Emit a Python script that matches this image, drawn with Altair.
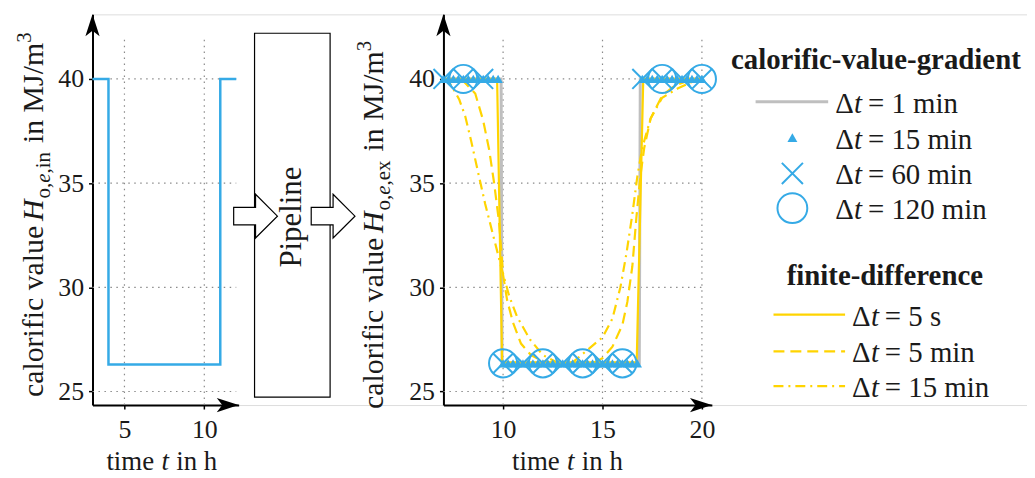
import altair as alt
import pandas as pd

FONT = "Liberation Serif"
BLUE = "#35aae6"
YELLOW = "#ffd400"
GRAY = "#bfbfbf"
INK = "#1a1a1a"
GRIDC = "#8a8a8a"

# ---------------- data ----------------
# inlet calorific value (left panel)
in_t = [3, 4, 4, 11, 11, 12]
in_v = [40, 40, 26.3, 26.3, 40, 40]

# calorific-value-gradient method (right panel)
cvg1_t = [7, 9.9, 9.95, 16.85, 16.9, 20]
cvg1_v = [40, 40, 26.35, 26.35, 40, 40]

cvg15_t = [7.0, 7.25, 7.5, 7.75, 8.0, 8.25, 8.5, 8.75, 9.0, 9.25, 9.5, 9.75,
           10.0, 10.25, 10.5, 10.75, 11.0, 11.25, 11.5, 11.75, 12.0, 12.25, 12.5, 12.75,
           13.0, 13.25, 13.5, 13.75, 14.0, 14.25, 14.5, 14.75, 15.0, 15.25, 15.5, 15.75,
           16.0, 16.25, 16.5, 16.75,
           17.0, 17.25, 17.5, 17.75, 18.0, 18.25, 18.5, 18.75, 19.0, 19.25, 19.5, 19.75, 20.0]
cvg15_v = [40, 40, 40, 40, 40, 40, 40, 40, 40, 40, 40, 40,
           26.35, 26.35, 26.35, 26.35, 26.35, 26.35, 26.35, 26.35, 26.35, 26.35, 26.35, 26.35,
           26.35, 26.35, 26.35, 26.35, 26.35, 26.35, 26.35, 26.35, 26.35, 26.35, 26.35, 26.35,
           26.35, 26.35, 26.35, 26.35,
           40, 40, 40, 40, 40, 40, 40, 40, 40, 40, 40, 40, 40]

cvg60_t = [7, 8, 9, 10, 11, 12, 13, 14, 15, 16, 17, 18, 19, 20]
cvg60_v = [40, 40, 40, 26.35, 26.35, 26.35, 26.35, 26.35, 26.35, 26.35, 40, 40, 40, 40]

cvg120_t = [8, 10, 12, 14, 16, 18, 20]
cvg120_v = [40, 26.35, 26.35, 26.35, 26.35, 40, 40]

# finite-difference method
fd5s_t = [7, 9.7, 9.95, 16.72, 17.05, 20]
fd5s_v = [40, 40, 26.4, 26.4, 40, 40]

fd5m_t = [7, 8.0, 8.6, 9.0, 9.3, 9.55, 9.8, 10.0, 10.2, 10.5, 10.9, 11.4, 12.0, 12.6,
          14.6, 15.0, 15.5, 16.0, 16.25, 16.5, 16.7, 16.9, 17.1, 17.42, 18.0, 18.67, 19.3, 20]
fd5m_v = [40, 39.9, 39.3, 38.0, 36.6, 35.0, 33.1, 30.6, 29.4, 28.3, 27.3, 26.75, 26.45, 26.37,
          26.4, 26.6, 27.15, 28.2, 29.3, 31.0, 33.3, 35.3, 36.7, 38.1, 39.2, 39.7, 39.92, 40]

fd15m_t = [7, 7.4, 7.8, 8.1, 8.4, 8.7, 9.1, 9.5, 9.9, 10.3, 10.7, 11.35, 12.0, 12.6, 13.2,
           13.5, 14.0, 14.5, 15.0, 15.5, 15.9, 16.2, 16.5, 16.75, 17.0, 17.42, 18.0, 18.8, 19.6, 20]
fd15m_v = [40, 39.7, 39.0, 38.2, 37.0, 35.7, 34.0, 32.5, 31.0, 29.6, 28.6, 27.5, 26.75, 26.45, 26.37,
           26.4, 26.8, 27.2, 27.6, 28.5, 30.0, 31.6, 33.5, 35.3, 36.7, 38.1, 39.1, 39.55, 39.9, 40]

left_ticks_x = [5, 10]
right_ticks_x = [10, 15, 20]
ticks_y = [25, 30, 35, 40]

legend_titles = ["calorific-value-gradient", "finite-difference"]
legend_labels = ["= 1 min", "= 15 min", "= 60 min", "= 120 min", "= 5 s", "= 5 min", "= 15 min"]

# ---------------- layout ----------------
W, H = 940, 393
LEFT_X = [3, 12.15]
RIGHT_X = [7, 20.5]
Y_DOM = [24.35, 43.1]
GRID_TOP = 41.9
RIGHT_OFFSET = 353

ARROW_UP = "M0,0L0.65,2L0,1.5L-0.65,2Z"
ARROW_RIGHT = "M0,0L-2,0.65L-1.5,0L-2,-0.65Z"
X_SHAPE = "M-1,-1L1,1M-1,1L1,-1"
BLOCK_ARROW = "M-1,-0.4L0,-0.4L0,-1L1,0L0,1L0,0.4L-1,0.4Z"


def frame(t, v):
    return pd.DataFrame({"t": t, "v": v, "i": list(range(len(t)))})


def mk_axis(values, orient, offset=0, pad=5):
    return alt.Axis(values=values, orient=orient, offset=offset, title="", grid=False,
                    domainColor="black", domainWidth=2, tickColor="black", tickWidth=1.5,
                    tickSize=4, labelFont=FONT, labelFontSize=26, labelColor=INK,
                    labelPadding=pad, labelFlush=False)


def panel(xdom, xrange, xticks, xlo, xhi, yoffset, series):
    xs = alt.Scale(domain=xdom, range=xrange, nice=False, zero=False)
    ys = alt.Scale(domain=Y_DOM, nice=False, zero=False)
    ax = mk_axis(xticks, "bottom", 0, 8)
    ay = mk_axis(ticks_y, "left", yoffset, 5)

    def X(f):
        return alt.X(f + ":Q", scale=xs, axis=ax)

    def Y(f):
        return alt.Y(f + ":Q", scale=ys, axis=ay)

    gv = pd.DataFrame({"t": xticks, "y0": [Y_DOM[0]] * len(xticks), "y1": [GRID_TOP] * len(xticks)})
    gh = pd.DataFrame({"v": ticks_y, "x0": [xlo] * len(ticks_y), "x1": [xhi] * len(ticks_y)})
    layers = [
        alt.Chart(gv).mark_rule(color=GRIDC, strokeWidth=1.2, strokeDash=[1.5, 4.5]).encode(
            x=X("t"), y=Y("y0"), y2="y1:Q"),
        alt.Chart(gh).mark_rule(color=GRIDC, strokeWidth=1.2, strokeDash=[1.5, 4.5]).encode(
            x=X("x0"), x2="x1:Q", y=Y("v")),
    ]
    for kind, df, props in series:
        if kind == "line":
            layers.append(alt.Chart(df).mark_line(**props).encode(x=X("t"), y=Y("v"), order="i:Q"))
        else:
            layers.append(alt.Chart(df).mark_point(**props).encode(x=X("t"), y=Y("v")))
    up = pd.DataFrame({"t": [xdom[0]], "v": [Y_DOM[1]]})
    rt = pd.DataFrame({"t": [xdom[1]], "v": [Y_DOM[0]]})
    layers.append(alt.Chart(up).mark_point(shape=ARROW_UP, size=484, filled=True, color="black",
                                           opacity=1, strokeWidth=0).encode(x=X("t"), y=Y("v")))
    layers.append(alt.Chart(rt).mark_point(shape=ARROW_RIGHT, size=484, filled=True, color="black",
                                           opacity=1, strokeWidth=0).encode(x=X("t"), y=Y("v")))
    return alt.layer(*layers)


left = panel(LEFT_X, [0, 147], left_ticks_x, 3, 12, 0, [
    ("line", frame(in_t, in_v), dict(color=BLUE, strokeWidth=2.5)),
])

right = panel(RIGHT_X, [RIGHT_OFFSET, RIGHT_OFFSET + 270], right_ticks_x, 7, 20, -RIGHT_OFFSET, [
    ("line", frame(cvg1_t, cvg1_v), dict(color=GRAY, strokeWidth=3)),
    ("line", frame(fd5s_t, fd5s_v), dict(color=YELLOW, strokeWidth=2.2)),
    ("line", frame(fd5m_t, fd5m_v), dict(color=YELLOW, strokeWidth=2.2, strokeDash=[11, 6])),
    ("line", frame(fd15m_t, fd15m_v), dict(color=YELLOW, strokeWidth=2.2, strokeDash=[10, 5, 2, 5])),
    ("point", frame(cvg15_t, cvg15_v), dict(shape="triangle-up", size=90, filled=True, color=BLUE,
                                             opacity=1, strokeWidth=0)),
    ("point", frame(cvg60_t, cvg60_v), dict(shape=X_SHAPE, size=400, filled=False, color=BLUE,
                                             opacity=1, strokeWidth=2)),
    ("point", frame(cvg120_t, cvg120_v), dict(shape="circle", size=800, filled=False, color=BLUE,
                                               opacity=1, strokeWidth=2)),
])


def one(s="x"):
    return pd.DataFrame({"s": [s]})


def label(s, x, y, size, style="normal", weight="normal", angle=0, align="left",
          baseline="alphabetic"):
    props = dict(font=FONT, fontSize=size, fontStyle=style, fontWeight=weight, align=align,
                 baseline=baseline, color=INK)
    if angle:
        props["angle"] = angle
    return alt.Chart(one(s)).mark_text(**props).encode(x=alt.value(x), y=alt.value(y), text="s:N")


def ytitle(x, y0, subs, F=30, S=21):
    out = []
    y = y0
    out.append(label("calorific value", x, y, F, angle=270)); y -= 5.9 * F
    out.append(label("H", x, y, F, style="italic", angle=270)); y -= 0.76 * F
    for s, st, w in subs:
        out.append(label(s, x + 7, y, S, style=st, angle=270)); y -= w * S
    y -= 0.3 * F
    out.append(label("in MJ/m", x, y, F, angle=270)); y -= 3.362 * F
    out.append(label("3", x - 12, y, S, angle=270))
    return out


def xtitle(x0, y, F=27):
    return [label("time", x0, y, F), label("t", x0 + 2.05 * F, y, F, style="italic"),
            label("in h", x0 + 2.6 * F, y, F)]


decor = []
# pipeline box, arrows and label
decor.append(alt.Chart(one()).mark_rect(fill="white", stroke="black", strokeWidth=1.2).encode(
    x=alt.value(163), x2=alt.value(239), y=alt.value(19), y2=alt.value(385)))
for ax_ in (164, 242):
    decor.append(alt.Chart(one()).mark_point(shape=BLOCK_ARROW, size=1936, filled=True, fill="white",
                                             stroke="black", strokeWidth=1.2, opacity=1).encode(
        x=alt.value(ax_), y=alt.value(203)))
decor.append(label("Pipeline", 201, 204, 31, angle=270, align="center", baseline="middle"))

# axis titles
decor += ytitle(-50, 385, [("o,", "normal", 0.75), ("e", "italic", 0.444), (",in", "normal", 1.03)])
decor += ytitle(292, 397, [("o,", "normal", 0.75), ("e", "italic", 0.444), (",ex", "normal", 1.2)])
decor += xtitle(14, 458)
decor += xtitle(422, 458)

# legend
decor.append(label(legend_titles[0], 788, 55, 29, weight="bold", align="center"))
decor.append(label(legend_titles[1], 797, 272, 29, weight="bold", align="center"))
rows_y = [88, 124, 160, 195, 302, 339, 374]
decor.append(alt.Chart(one()).mark_rule(color=GRAY, strokeWidth=3).encode(
    x=alt.value(667), x2=alt.value(740), y=alt.value(rows_y[0])))
decor.append(alt.Chart(one()).mark_point(shape="triangle-up", size=100, filled=True, color=BLUE,
                                         opacity=1, strokeWidth=0).encode(
    x=alt.value(704), y=alt.value(rows_y[1])))
decor.append(alt.Chart(one()).mark_point(shape=X_SHAPE, size=450, filled=False, color=BLUE,
                                         opacity=1, strokeWidth=2).encode(
    x=alt.value(704), y=alt.value(rows_y[2])))
decor.append(alt.Chart(one()).mark_point(shape="circle", size=900, filled=False, color=BLUE,
                                         opacity=1, strokeWidth=2).encode(
    x=alt.value(704), y=alt.value(rows_y[3])))
for ry, dash in zip(rows_y[4:], [[1, 0], [11, 6], [10, 5, 2, 5]]):
    decor.append(alt.Chart(one()).mark_rule(color=YELLOW, strokeWidth=2.2, strokeDash=dash).encode(
        x=alt.value(685), x2=alt.value(757), y=alt.value(ry)))
for k, (ry, txt) in enumerate(zip(rows_y, legend_labels)):
    x0 = 747 if k < 4 else 764
    decor.append(label("\u0394", x0, ry + 11, 29))
    decor.append(label("t", x0 + 19, ry + 11, 29, style="italic"))
    decor.append(label(txt, x0 + 33, ry + 11, 29))

chart = alt.layer(left, right, *decor).resolve_scale(
    x="independent", y="independent"
).properties(
    width=W, height=H,
    padding={"left": 85, "top": 5, "right": 0, "bottom": 70},
    autosize=alt.AutoSizeParams(type="none"),
).configure_view(stroke=None).configure(background="white")

chart.save("out.html", embed_options={"renderer": "svg", "actions": False})
